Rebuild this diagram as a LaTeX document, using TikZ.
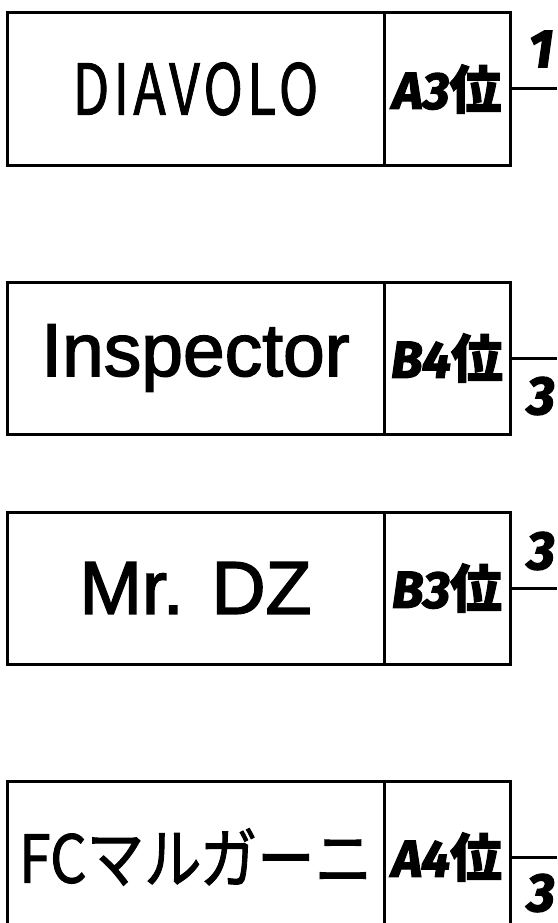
\documentclass[tikz,border=0pt]{standalone}
\usepackage{fontspec}
\usepackage{graphicx}
\newfontfamily\jpfont{Noto Sans CJK JP}[FakeBold=1.5]
\newfontfamily\jpspaced{Noto Sans CJK JP}[FakeBold=1.5, LetterSpace=8]
\newfontfamily\jpheavy{Noto Sans CJK JP}[FakeBold=2]
\newfontfamily\arialfont{Liberation Sans}[FakeBold=2]
\newfontfamily\rankfont{Fira Sans}[BoldItalicFeatures={FakeBold=2.5}]
\begin{document}
\begin{tikzpicture}[x=1pt,y=-1pt]
\tikzset{
  namecell/.style={draw, rectangle, line width=3pt, minimum width=377pt, minimum height=152pt, inner sep=0pt},
  rankcell/.style={draw, rectangle, line width=3pt, minimum width=126pt, minimum height=152pt, inner sep=0pt,
    font=\fontsize{52}{54}\selectfont},
  numlabel/.style={inner sep=0pt, font=\rankfont\bfseries\itshape\fontsize{54}{58}\selectfont},
  link/.style={line width=3pt}
}
\newcommand{\rk}[2]{{\rankfont\bfseries\itshape #1}{\jpheavy\bfseries #2}}
\useasboundingbox (0,0) rectangle (557,923);
\fill[white] (0,0) rectangle (557,923);
\clip (0,0) rectangle (557,923);

% box 1
\node[namecell] (n1) at (195.5,89) {\jpspaced\fontsize{70}{72}\selectfont\scalebox{0.76}[1]{DIAVOLO}};
\node[rankcell] (r1) at (447,89) {\rk{A3}{位}};
\coordinate (e1) at (557,89);
\draw[link] (r1.east) -- (e1);
\node[numlabel] (k1) at (541,49) {1};

% box 2
\node[namecell] (n2) at (195.5,358) {\arialfont\fontsize{75}{78}\selectfont Inspector};
\node[rankcell] (r2) at (447,358) {\rk{B4}{位}};
\coordinate (e2) at (557,358);
\draw[link] (r2.east) -- (e2);
\node[numlabel] (k2) at (541,396) {3};

% box 3
\node[namecell] (n3) at (195.5,588) {\arialfont\fontsize{75}{78}\selectfont Mr. DZ};
\node[rankcell] (r3) at (447,588) {\rk{B3}{位}};
\coordinate (e3) at (557,588);
\draw[link] (r3.east) -- (e3);
\node[numlabel] (k3) at (541,551) {3};

% box 4
\node[namecell] (n4) at (195.5,857) {\jpfont\fontsize{66}{70}\selectfont\scalebox{0.87}[1]{FCマルガーニ}};
\node[rankcell] (r4) at (447,857) {\rk{A4}{位}};
\coordinate (e4) at (557,857);
\draw[link] (r4.east) -- (e4);
\node[numlabel] (k4) at (541,893) {3};
\end{tikzpicture}
\end{document}
